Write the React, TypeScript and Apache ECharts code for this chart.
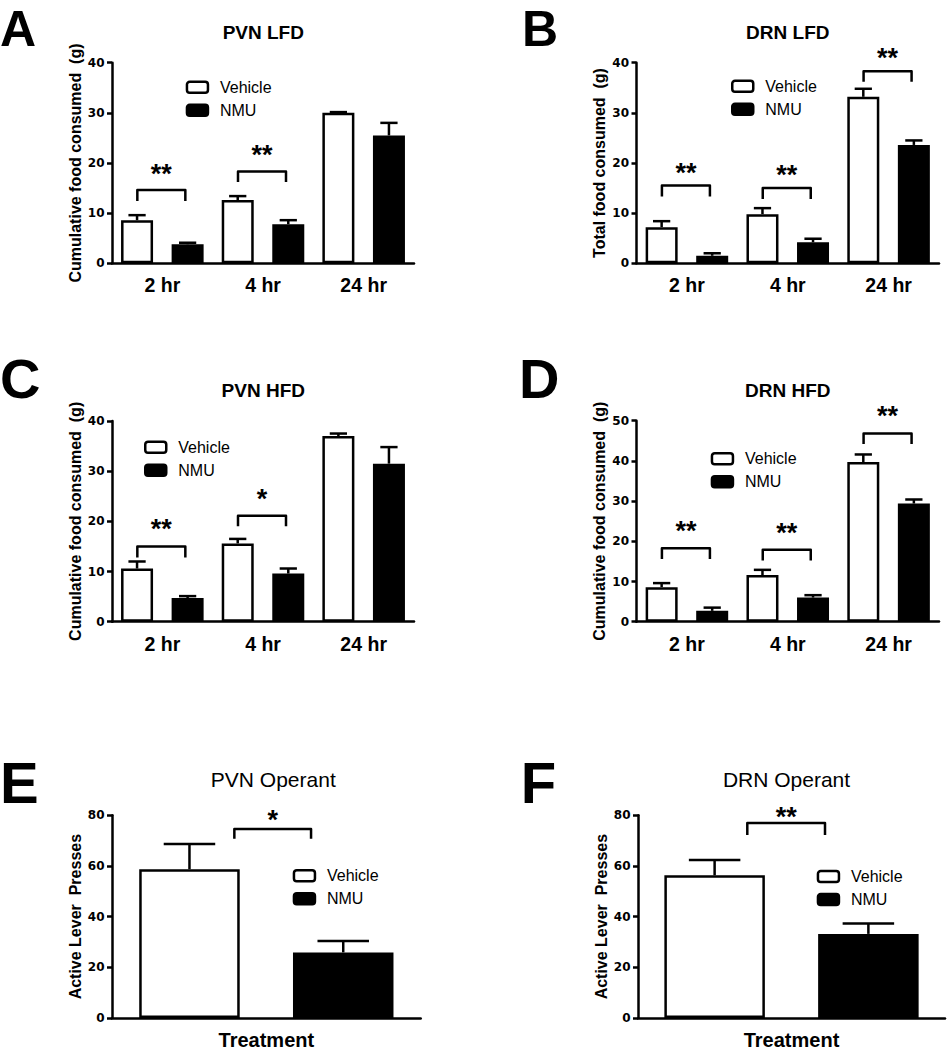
import React, { useEffect, useRef } from 'react';
import * as echarts from 'echarts';

// ---------- data ----------
const TIME_CATS = ['2 hr', '4 hr', '24 hr'];
const OPERANT_CATS = ['Treatment'];
const SERIES_NAMES = ['Vehicle', 'NMU'];

// A: PVN LFD
const PVN_LFD_VEHICLE = [8.6, 12.6, 30.0];
const PVN_LFD_VEHICLE_SEM = [1.0, 0.8, 0.15];
const PVN_LFD_NMU = [3.8, 7.8, 25.5];
const PVN_LFD_NMU_SEM = [0.3, 0.8, 2.5];
const PVN_LFD_SIG: [number, number, number, string][] = [[0, 14.6, 12.4, '**'], [1, 18.3, 16.2, '**']];

// B: DRN LFD
const DRN_LFD_VEHICLE = [7.2, 9.8, 33.2];
const DRN_LFD_VEHICLE_SEM = [1.2, 1.2, 1.6];
const DRN_LFD_NMU = [1.5, 4.2, 23.6];
const DRN_LFD_NMU_SEM = [0.5, 0.7, 0.9];
const DRN_LFD_SIG: [number, number, number, string][] = [[0, 15.5, 13.3, '**'], [1, 15.0, 12.8, '**'], [2, 38.3, 36.2, '**']];

// C: PVN HFD
const PVN_HFD_VEHICLE = [10.6, 15.6, 37.0];
const PVN_HFD_VEHICLE_SEM = [1.4, 0.9, 0.5];
const PVN_HFD_NMU = [4.7, 9.6, 31.5];
const PVN_HFD_NMU_SEM = [0.4, 1.0, 3.3];
const PVN_HFD_SIG: [number, number, number, string][] = [[0, 15.0, 12.8, '**'], [1, 21.1, 19.0, '*']];

// D: DRN HFD
const DRN_HFD_VEHICLE = [8.6, 11.6, 39.7];
const DRN_HFD_VEHICLE_SEM = [1.0, 1.3, 1.9];
const DRN_HFD_NMU = [2.7, 6.0, 29.4];
const DRN_HFD_NMU_SEM = [0.8, 0.6, 1.0];
const DRN_HFD_SIG: [number, number, number, string][] = [[0, 18.3, 15.6, '**'], [1, 17.9, 15.2, '**'], [2, 46.8, 44.2, '**']];

// E: PVN Operant
const PVN_OP_VEHICLE = [58.7];
const PVN_OP_VEHICLE_SEM = [10.0];
const PVN_OP_NMU = [25.9];
const PVN_OP_NMU_SEM = [4.5];
const PVN_OP_SIG: [number, number, number, string][] = [[0, 74.6, 70.7, '*']];

// F: DRN Operant
const DRN_OP_VEHICLE = [56.3];
const DRN_OP_VEHICLE_SEM = [6.1];
const DRN_OP_NMU = [33.2];
const DRN_OP_NMU_SEM = [4.1];
const DRN_OP_SIG: [number, number, number, string][] = [[0, 77.0, 72.2, '**']];

// ---------- styling ----------
const ARIAL = "'Liberation Sans', Arial, Helvetica, sans-serif";
const DEJAVU = "'DejaVu Sans', 'Liberation Sans', sans-serif";
const LW = 2.5;

interface Panel {
  letter: string; letterX: number; letterY: number; letterSize: number;
  title: string; titleBold: boolean; titleX: number; titleY: number; titleSize: number;
  yName: string; yMax: number; yInterval: number;
  cats: string[];
  veh: number[]; vehSem: number[]; nmu: number[]; nmuSem: number[];
  sig: [number, number, number, string][];
  grid: { left: number; top: number; width: number; height: number };
  barWidth: number; barGapPct: number;
  brL: number; brR: number; starGap: number;
  legendLeft: number; legendTop: number;
}

const small = { barWidth: 32, barGapPct: 58, brL: -25, brR: 23 };
const big = { barWidth: 100.5, barGapPct: 53 };

const PANELS: Panel[] = [
  {
    letter: 'A', letterX: 0, letterY: 28.5, letterSize: 50,
    title: 'PVN LFD', titleBold: true, titleX: 263.3, titleY: 32.7, titleSize: 19,
    yName: 'Cumulative food consumed  (g)', yMax: 40, yInterval: 10, cats: TIME_CATS,
    veh: PVN_LFD_VEHICLE, vehSem: PVN_LFD_VEHICLE_SEM, nmu: PVN_LFD_NMU, nmuSem: PVN_LFD_NMU_SEM, sig: PVN_LFD_SIG,
    grid: { left: 112, top: 62.7, width: 302, height: 200.6 }, ...small, starGap: 22,
    legendLeft: 185.7, legendTop: 78.8,
  },
  {
    letter: 'B', letterX: 522, letterY: 28.5, letterSize: 50,
    title: 'DRN LFD', titleBold: true, titleX: 787.8, titleY: 32.7, titleSize: 19,
    yName: 'Total food consumed  (g)', yMax: 40, yInterval: 10, cats: TIME_CATS,
    veh: DRN_LFD_VEHICLE, vehSem: DRN_LFD_VEHICLE_SEM, nmu: DRN_LFD_NMU, nmuSem: DRN_LFD_NMU_SEM, sig: DRN_LFD_SIG,
    grid: { left: 636.5, top: 62.7, width: 302.5, height: 200.6 }, ...small, starGap: 18.3,
    legendLeft: 731, legendTop: 77.8,
  },
  {
    letter: 'C', letterX: 0, letterY: 378, letterSize: 56,
    title: 'PVN HFD', titleBold: true, titleX: 263.3, titleY: 390.3, titleSize: 19,
    yName: 'Cumulative food consumed  (g)', yMax: 40, yInterval: 10, cats: TIME_CATS,
    veh: PVN_HFD_VEHICLE, vehSem: PVN_HFD_VEHICLE_SEM, nmu: PVN_HFD_NMU, nmuSem: PVN_HFD_NMU_SEM, sig: PVN_HFD_SIG,
    grid: { left: 112, top: 421, width: 302, height: 200.7 }, ...small, starGap: 22.7,
    legendLeft: 144, legendTop: 438.7,
  },
  {
    letter: 'D', letterX: 519, letterY: 378.5, letterSize: 56,
    title: 'DRN HFD', titleBold: true, titleX: 787.8, titleY: 390.3, titleSize: 19,
    yName: 'Cumulative food consumed  (g)', yMax: 50, yInterval: 10, cats: TIME_CATS,
    veh: DRN_HFD_VEHICLE, vehSem: DRN_HFD_VEHICLE_SEM, nmu: DRN_HFD_NMU, nmuSem: DRN_HFD_NMU_SEM, sig: DRN_HFD_SIG,
    grid: { left: 636.5, top: 420.7, width: 302.5, height: 201 }, ...small, starGap: 22.6,
    legendLeft: 710.7, legendTop: 450.2,
  },
  {
    letter: 'E', letterX: 0, letterY: 782.5, letterSize: 58,
    title: 'PVN Operant', titleBold: false, titleX: 273.3, titleY: 779, titleSize: 21,
    yName: 'Active Lever  Presses', yMax: 80, yInterval: 20, cats: OPERANT_CATS,
    veh: PVN_OP_VEHICLE, vehSem: PVN_OP_VEHICLE_SEM, nmu: PVN_OP_NMU, nmuSem: PVN_OP_NMU_SEM, sig: PVN_OP_SIG,
    grid: { left: 112, top: 815.3, width: 308.7, height: 205 }, ...big, brL: -32, brR: 44.7, starGap: 14.7,
    legendLeft: 292.7, legendTop: 867.2,
  },
  {
    letter: 'F', letterX: 520.8, letterY: 782.5, letterSize: 58,
    title: 'DRN Operant', titleBold: false, titleX: 786.5, titleY: 779, titleSize: 21,
    yName: 'Active Lever  Presses', yMax: 80, yInterval: 20, cats: OPERANT_CATS,
    veh: DRN_OP_VEHICLE, vehSem: DRN_OP_VEHICLE_SEM, nmu: DRN_OP_NMU, nmuSem: DRN_OP_NMU_SEM, sig: DRN_OP_SIG,
    grid: { left: 638, top: 815.3, width: 307, height: 205 }, ...big, brL: -44.2, brR: 33.5, starGap: 11.3,
    legendLeft: 816.7, legendTop: 868,
  },
];

function errorRender(offset: number, capHalf: number) {
  return (params: any, api: any) => {
    const i = api.value(0);
    const lo = api.coord([i, api.value(1)]);
    const hi = api.coord([i, api.value(2)]);
    const x = lo[0] + offset;
    return {
      type: 'group',
      children: [
        { type: 'line', shape: { x1: x, y1: lo[1], x2: x, y2: hi[1] }, style: { stroke: '#000', lineWidth: LW } },
        { type: 'line', shape: { x1: x - capHalf, y1: hi[1], x2: x + capHalf, y2: hi[1] }, style: { stroke: '#000', lineWidth: LW } },
      ],
    };
  };
}

function bracketRender(p: Panel) {
  return (params: any, api: any) => {
    const i = api.value(0);
    const top = api.coord([i, api.value(1)]);
    const leg = api.coord([i, api.value(2)]);
    const x1 = top[0] + p.brL;
    const x2 = top[0] + p.brR;
    const label = p.sig[params.dataIndex][3];
    return {
      type: 'group',
      children: [
        {
          type: 'polyline',
          shape: { points: [[x1, leg[1]], [x1, top[1]], [x2, top[1]], [x2, leg[1]]] },
          style: { stroke: '#000', lineWidth: LW, fill: 'none', lineJoin: 'round' },
        },
        {
          type: 'text',
          x: (x1 + x2) / 2,
          y: top[1] - p.starGap + 5.5,
          style: {
            text: label, fontFamily: ARIAL, fontWeight: 'bold', fontSize: 27, fill: '#000',
            align: 'center', verticalAlign: 'middle',
          },
        },
      ],
    };
  };
}

function buildOption() {
  const grid: any[] = [];
  const xAxis: any[] = [];
  const yAxis: any[] = [];
  const series: any[] = [];
  const legend: any[] = [];
  const graphic: any[] = [];

  PANELS.forEach((p, k) => {
    grid.push({ ...p.grid, containLabel: false });
    xAxis.push({
      type: 'category', gridIndex: k, data: p.cats, boundaryGap: true,
      axisLine: { show: true, lineStyle: { color: '#000', width: LW } },
      axisTick: { show: false },
      axisLabel: { color: '#000', fontFamily: ARIAL, fontWeight: 'bold', fontSize: p.cats.length === 1 ? 20 : 19.5, margin: 12 },
      splitLine: { show: false },
    });
    yAxis.push({
      type: 'value', gridIndex: k, min: 0, max: p.yMax, interval: p.yInterval,
      name: p.yName, nameLocation: 'middle', nameGap: 29,
      nameTextStyle: { color: '#000', fontFamily: ARIAL, fontWeight: 'bold', fontSize: 16 },
      axisLine: { show: true, lineStyle: { color: '#000', width: LW } },
      axisTick: { show: true, inside: false, length: 5, lineStyle: { color: '#000', width: LW } },
      axisLabel: { color: '#000', fontFamily: DEJAVU, fontWeight: 'bold', fontSize: 12, margin: 7.5 },
      splitLine: { show: false },
    });
    const gapPx = (p.barWidth * p.barGapPct) / 100;
    const off = (p.barWidth + gapPx) / 2;
    const capHalf = (p.barWidth + LW) / 4;
    series.push({
      type: 'bar', name: SERIES_NAMES[0], xAxisIndex: k, yAxisIndex: k, data: p.veh,
      barWidth: p.barWidth, barGap: p.barGapPct + '%',
      itemStyle: { color: '#fff', borderColor: '#000', borderWidth: LW },
      z: 2,
    });
    series.push({
      type: 'bar', name: SERIES_NAMES[1], xAxisIndex: k, yAxisIndex: k, data: p.nmu,
      barWidth: p.barWidth, barGap: p.barGapPct + '%',
      itemStyle: { color: '#000', borderColor: '#000', borderWidth: LW },
      z: 2,
    });
    series.push({
      type: 'custom', name: 'Vehicle SEM', xAxisIndex: k, yAxisIndex: k, z: 3,
      data: p.veh.map((v, i) => [i, v, v + p.vehSem[i]]),
      renderItem: errorRender(-off, capHalf), silent: true,
    });
    series.push({
      type: 'custom', name: 'NMU SEM', xAxisIndex: k, yAxisIndex: k, z: 3,
      data: p.nmu.map((v, i) => [i, v, v + p.nmuSem[i]]),
      renderItem: errorRender(off, capHalf), silent: true,
    });
    series.push({
      type: 'custom', name: 'Significance', xAxisIndex: k, yAxisIndex: k, z: 3,
      data: p.sig.map((s) => [s[0], s[1], s[2]]),
      renderItem: bracketRender(p), silent: true, clip: false,
    });
    legend.push({
      left: p.legendLeft, top: p.legendTop, orient: 'vertical', padding: 0, itemGap: 6,
      itemWidth: 21, itemHeight: 11, icon: 'roundRect', selectedMode: false,
      textStyle: { color: '#000', fontFamily: ARIAL, fontSize: 16, lineHeight: 17, padding: [0, 0, 0, 7] },
      itemStyle: { borderColor: '#000', borderWidth: LW },
      data: [
        { name: SERIES_NAMES[0], itemStyle: { color: '#fff', borderColor: '#000', borderWidth: LW } },
        { name: SERIES_NAMES[1], itemStyle: { color: '#000', borderColor: '#000', borderWidth: LW } },
      ],
    });
    graphic.push({
      type: 'text', x: p.letterX, y: p.letterY,
      style: { text: p.letter, fontFamily: ARIAL, fontWeight: 'bold', fontSize: p.letterSize, fill: '#000', align: 'left', verticalAlign: 'middle' },
    });
    graphic.push({
      type: 'text', x: p.titleX, y: p.titleY,
      style: { text: p.title, fontFamily: ARIAL, fontWeight: p.titleBold ? 'bold' : 'normal', fontSize: p.titleSize, fill: '#000', align: 'center', verticalAlign: 'middle' },
    });
  });

  return {
    animation: false,
    backgroundColor: '#fff',
    grid, xAxis, yAxis, series, legend, graphic,
  };
}

export default function App() {
  const ref = useRef<HTMLDivElement>(null);
  useEffect(() => {
    if (!ref.current) return;
    const chart = echarts.init(ref.current, null, { renderer: 'svg' });
    chart.setOption(buildOption() as any);
    return () => chart.dispose();
  }, []);
  return (
    <div
      ref={ref}
      style={{ position: 'absolute', left: 0, top: 0, width: 947, height: 1050, background: '#fff' }}
    />
  );
}
